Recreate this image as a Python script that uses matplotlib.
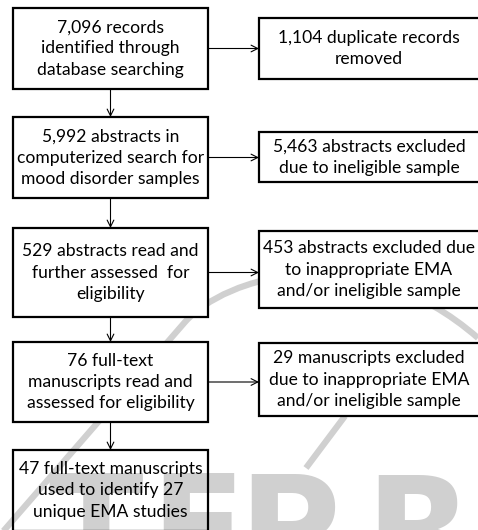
import matplotlib
matplotlib.use('Agg')
import matplotlib.pyplot as plt
from matplotlib.patches import Rectangle, PathPatch
from matplotlib.path import Path

# flow counts and box texts
left_counts = [7096, 5992, 529, 76, 47]
left_labels = [
    '{:,} records\nidentified through\ndatabase searching',
    '{:,} abstracts in\ncomputerized search for\nmood disorder samples',
    '{:,} abstracts read and\nfurther assessed  for\neligibility',
    '{:,} full-text\nmanuscripts read and\nassessed for eligibility',
    '{:,} full-text manuscripts\nused to identify 27\nunique EMA studies',
]
right_counts = [1104, 5463, 453, 29]
right_labels = [
    '{:,} duplicate records\nremoved',
    '{:,} abstracts excluded\ndue to ineligible sample',
    '{:,} abstracts excluded due\nto inappropriate EMA\nand/or ineligible sample',
    '{:,} manuscripts excluded\ndue to inappropriate EMA\nand/or ineligible sample',
]

# layout in pixels (y grows downwards)
left_x = (13, 208)
left_y = [(8, 89), (117, 198), (228, 317), (342, 422), (450, 531)]
right_x = (259, 481)
right_y = [(18, 79), (132, 182), (231, 308), (343, 416)]

FONT = 'Lato'
FS = 12.6
WM = '#d0d0d0'

fig = plt.figure(figsize=(4.78, 5.30), dpi=100)
ax = fig.add_axes([0, 0, 1, 1])
ax.set_xlim(0, 478)
ax.set_ylim(530, 0)
ax.axis('off')

# faint publisher watermark behind the chart
swoosh = Path([(0, 535), (185, 322), (225, 277), (360, 235), (478, 338)],
              [Path.MOVETO, Path.LINETO, Path.CURVE4, Path.CURVE4, Path.CURVE4])
ax.add_patch(PathPatch(swoosh, fill=False, ec=WM, lw=4.5, zorder=0))
ax.plot([345, 306], [416, 468], color=WM, lw=4.5, solid_capstyle='butt', zorder=0)
for letter, lx in zip(['T', 'E', 'P', 'R'], [48, 150, 238, 365]):
    ax.text(lx, 575, letter, fontsize=100, fontweight='bold', family='DejaVu Sans',
            color=WM, ha='left', va='baseline', zorder=0)

# boxes
for i, (n, lab) in enumerate(zip(left_counts, left_labels)):
    y0, y1 = left_y[i]
    fc = 'none' if i == len(left_counts) - 1 else 'white'
    ax.add_patch(Rectangle((left_x[0], y0), left_x[1] - left_x[0], y1 - y0,
                           fc=fc, ec='black', lw=1.6, zorder=2))
    ax.text(sum(left_x) / 2, (y0 + y1) / 2, lab.format(n), family=FONT, fontsize=FS,
            ha='center', va='center', linespacing=1.4, zorder=3)

for i, (n, lab) in enumerate(zip(right_counts, right_labels)):
    y0, y1 = right_y[i]
    ax.add_patch(Rectangle((right_x[0], y0), right_x[1] - right_x[0], y1 - y0,
                           fc='white', ec='black', lw=1.6, zorder=2))
    ax.text(369, (y0 + y1) / 2, lab.format(n), family=FONT, fontsize=FS,
            ha='center', va='center', linespacing=1.4, zorder=3)

# arrows
arrow = dict(arrowstyle='->', lw=0.8, color='black', shrinkA=0, shrinkB=0,
             mutation_scale=12)
xc = sum(left_x) / 2
for i in range(len(left_y) - 1):
    ax.annotate('', xy=(xc, left_y[i + 1][0]), xytext=(xc, left_y[i][1]),
                arrowprops=arrow, zorder=3)
for i in range(len(right_y)):
    ym = sum(left_y[i]) / 2
    ax.annotate('', xy=(right_x[0], ym), xytext=(left_x[1], ym),
                arrowprops=arrow, zorder=3)

fig.savefig('out.png', dpi=100)
